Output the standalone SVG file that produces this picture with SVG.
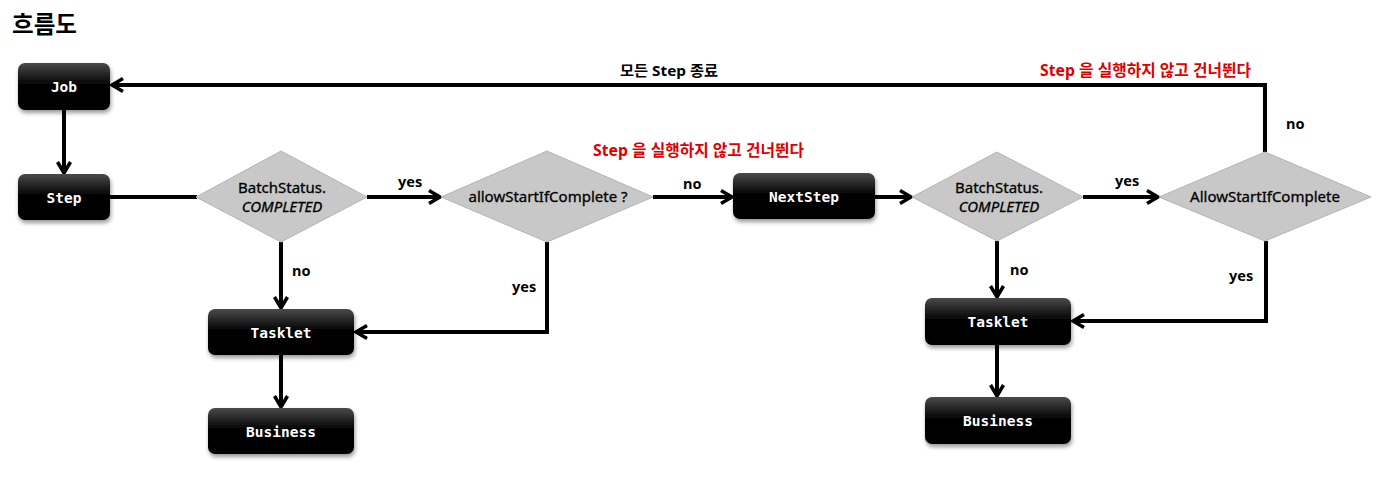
<svg xmlns="http://www.w3.org/2000/svg" width="1389" height="488" viewBox="0 0 1389 488">
<style>
.box{fill:url(#bg);filter:url(#sh)}
.bt{fill:#fff;font-family:"DejaVu Sans Mono","Liberation Mono",monospace;font-weight:bold;font-size:14.5px;text-anchor:middle}
.dm{fill:#c8c8c8;stroke:#b4b4b4;stroke-width:1}
.dt{fill:#000;stroke:#000;stroke-width:0.3;font-family:"Noto Sans","Open Sans",sans-serif;font-size:15px;text-anchor:middle}
.lb{fill:#000;font-family:"Noto Sans","Open Sans",sans-serif;font-size:14.5px;font-weight:bold}
.red{fill:#e00000;font-family:"Noto Sans","Noto Sans CJK KR",sans-serif;font-size:15.5px;font-weight:bold}
.blk{fill:#000;font-family:"Noto Sans","Noto Sans CJK KR",sans-serif;font-size:15px;font-weight:bold}
.c{fill:none;stroke:#000;stroke-width:4}
</style>
<defs>
<linearGradient id="bg" x1="0" y1="0" x2="0" y2="1">
<stop offset="0" stop-color="#4a4a4a"/>
<stop offset="0.45" stop-color="#050505"/>
<stop offset="1" stop-color="#000"/>
</linearGradient>
<filter id="sh" x="-10%" y="-10%" width="125%" height="140%">
<feGaussianBlur in="SourceAlpha" stdDeviation="2"/>
<feOffset dx="1" dy="3" result="o"/>
<feComponentTransfer><feFuncA type="linear" slope="0.4"/></feComponentTransfer>
<feMerge><feMergeNode/><feMergeNode in="SourceGraphic"/></feMerge>
</filter>
<marker id="ah" viewBox="0 0 16 16" refX="13" refY="8" markerWidth="16" markerHeight="16" markerUnits="userSpaceOnUse" orient="auto">
<path d="M2,1.5 L13,8 L2,14.5" fill="none" stroke="#000" stroke-width="3.5"/>
</marker>
</defs>
<rect width="1389" height="488" fill="#fff"/>
<text x="12" y="33" font-family="Noto Sans CJK KR,sans-serif" font-size="24" font-weight="bold" fill="#000" textLength="65" lengthAdjust="spacingAndGlyphs">흐름도</text>

<g id="connectors">
<path class="c" d="M1265,152 V85 H112" marker-end="url(#ah)"/>
<path class="c" d="M64,110 V173" marker-end="url(#ah)"/>
<path class="c" d="M110,197 H197"/>
<path class="c" d="M367,197 H440" marker-end="url(#ah)"/>
<path class="c" d="M653,197 H732" marker-end="url(#ah)"/>
<path class="c" d="M547,242 V332 H356" marker-end="url(#ah)"/>
<path class="c" d="M281,242 V308" marker-end="url(#ah)"/>
<path class="c" d="M281,355 V407" marker-end="url(#ah)"/>
<path class="c" d="M875,197 H911" marker-end="url(#ah)"/>
<path class="c" d="M1083,197 H1158" marker-end="url(#ah)"/>
<path class="c" d="M997,241 V297" marker-end="url(#ah)"/>
<path class="c" d="M1266,241 V321 H1073" marker-end="url(#ah)"/>
<path class="c" d="M997,345 V396" marker-end="url(#ah)"/>
<text class="blk" x="620" y="76" textLength="98" lengthAdjust="spacingAndGlyphs">모든 Step 종료</text>
<text class="red" x="1040" y="76" textLength="211" lengthAdjust="spacingAndGlyphs">Step 을 실행하지 않고 건너뛴다</text>
<text class="red" x="593" y="156" textLength="211" lengthAdjust="spacingAndGlyphs">Step 을 실행하지 않고 건너뛴다</text>
<text class="lb" x="398" y="187">yes</text>
<text class="lb" x="683" y="189">no</text>
<text class="lb" x="292" y="276">no</text>
<text class="lb" x="512" y="292">yes</text>
<text class="lb" x="1115" y="186">yes</text>
<text class="lb" x="1010" y="275">no</text>
<text class="lb" x="1229" y="281">yes</text>
<text class="lb" x="1286" y="129">no</text>
</g>

<g id="job"><rect class="box" x="18" y="63" width="92" height="47" rx="7"/><text class="bt" x="64" y="92">Job</text></g>
<g id="step"><rect class="box" x="18" y="174" width="92" height="46" rx="7"/><text class="bt" x="64" y="203">Step</text></g>
<g id="d1"><polygon class="dm" points="281,151 367,197 281,242 196,197"/><text class="dt" x="282" y="193">BatchStatus.</text><text class="dt" x="282" y="212" font-style="italic">COMPLETED</text></g>
<g id="d2"><polygon class="dm" points="547,151 653,197 547,242 441,197"/><text class="dt" x="548" y="202">allowStartIfComplete ?</text></g>
<g id="nextstep"><rect class="box" x="733" y="173" width="142" height="46" rx="7"/><text class="bt" x="804" y="202">NextStep</text></g>
<g id="d3"><polygon class="dm" points="997,152 1083,197 997,241 912,197"/><text class="dt" x="999" y="193">BatchStatus.</text><text class="dt" x="999" y="212" font-style="italic">COMPLETED</text></g>
<g id="d4"><polygon class="dm" points="1265,152 1371,197 1265,241 1159,197"/><text class="dt" x="1265" y="202">AllowStartIfComplete</text></g>
<g id="tasklet1"><rect class="box" x="208" y="309" width="146" height="46" rx="7"/><text class="bt" x="281" y="338">Tasklet</text></g>
<g id="business1"><rect class="box" x="208" y="408" width="146" height="46" rx="7"/><text class="bt" x="281" y="437">Business</text></g>
<g id="tasklet2"><rect class="box" x="925" y="298" width="146" height="47" rx="7"/><text class="bt" x="998" y="327">Tasklet</text></g>
<g id="business2"><rect class="box" x="925" y="397" width="146" height="47" rx="7"/><text class="bt" x="998" y="426">Business</text></g>
</svg>
